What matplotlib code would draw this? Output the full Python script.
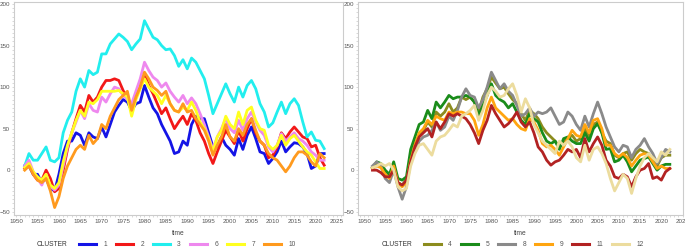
import numpy as np
import matplotlib.pyplot as plt
from matplotlib.ticker import MultipleLocator

plt.rcParams['font.family'] = ['Liberation Sans', 'DejaVu Sans']

# Years (one value per year)
years = np.arange(1952, 2023)

# Left panel clusters
left_labels = ['1', '2', '3', '6', '7', '10']
left_colors = ['#1414e6', '#f21818', '#22eeee', '#ee88ee', '#ffff20', '#ff9a1e']

c1 = [5, 5, -5, -5, -15, -10, -22, -25, -5, 20,
      35, 35, 45, 42, 30, 45, 40, 38, 52, 40,
      55, 70, 78, 85, 82, 72, 80, 82, 102, 88,
      75, 68, 55, 45, 35, 20, 22, 35, 30, 55,
      65, 62, 62, 45, 28, 28, 40, 30, 25, 18,
      38, 25, 42, 52, 38, 22, 20, 8, 14, 22,
      35, 22, 28, 33, 32, 28, 20, 2, 5, 20,
      20]
c2 = [2, 8, -5, -12, -12, 0, -10, -26, -22, 0,
      25, 45, 62, 78, 70, 90, 82, 88, 100, 108,
      108, 110, 108, 96, 86, 78, 88, 100, 115, 102,
      92, 80, 68, 75, 62, 50, 58, 65, 55, 68,
      60, 45, 35, 20, 8, 22, 35, 48, 40, 32,
      48, 35, 50, 62, 45, 35, 30, 15, 18, 28,
      45, 38, 46, 52, 46, 40, 38, 28, 30, 15,
      6]
c3 = [5, 20, 12, 12, 20, 28, 12, 10, 15, 45,
      60, 70, 95, 110, 100, 120, 115, 118, 140, 140,
      152, 158, 164, 160, 155, 145, 152, 158, 180, 170,
      160, 157, 150, 145, 146, 138, 125, 133, 122, 135,
      130, 120, 110, 90, 68, 80, 92, 104, 92, 82,
      100, 88, 102, 108, 98, 80, 70, 52, 57, 70,
      82, 68, 80, 86, 78, 58, 40, 46, 36, 35,
      26]
c6 = [5, 12, -2, -10, -18, -5, -20, -24, -18, 5,
      28, 45, 58, 72, 62, 80, 72, 70, 88, 82,
      92, 100, 98, 90, 85, 80, 95, 110, 130, 120,
      112, 108, 100, 105, 95, 88, 82, 90, 80, 87,
      80, 68, 55, 40, 25, 40, 50, 62, 50, 45,
      60, 48, 62, 70, 58, 48, 42, 28, 22, 30,
      44, 35, 40, 45, 38, 35, 30, 22, 18, 12,
      12]
c7 = [3, 8, -2, -8, -12, -5, -18, -22, -15, 10,
      30, 45, 60, 72, 65, 82, 80, 85, 95, 95,
      95, 95, 96, 92, 88, 65, 85, 98, 110, 100,
      95, 90, 80, 90, 80, 72, 70, 76, 72, 82,
      72, 58, 50, 38, 22, 40, 48, 65, 55, 50,
      70, 55, 72, 76, 60, 50, 48, 30, 25, 30,
      42, 30, 38, 42, 35, 28, 22, 18, 10, 2,
      2]
c10 = [0, 5, -5, -12, -15, -10, -25, -45, -32, -10,
       5, 15, 25, 30, 25, 42, 32, 38, 55, 50,
       65, 75, 85, 90, 95, 72, 88, 100, 118, 110,
       100, 96, 90, 95, 80, 72, 70, 80, 70, 72,
       62, 55, 48, 35, 18, 30, 40, 55, 40, 35,
       50, 42, 55, 62, 48, 35, 30, 20, 15, 12,
       5, -2, 5, 15, 22, 22, 18, 10, 5, 20,
       15]

# Right panel clusters
right_labels = ['4', '5', '8', '9', '11', '12']
right_colors = ['#8c8c1e', '#1a8c1a', '#8a8a8a', '#ffa510', '#b22222', '#ecdc9e']

c4 = [3, 8, 5, -5, -8, 5, -15, -18, -12, 15,
      32, 42, 48, 58, 52, 70, 65, 70, 80, 70,
      75, 88, 85, 88, 82, 70, 88, 98, 112, 105,
      98, 100, 92, 85, 80, 68, 60, 72, 68, 62,
      52, 45, 40, 35, 28, 35, 38, 42, 35, 38,
      50, 40, 55, 58, 45, 35, 32, 18, 15, 20,
      22, 12, 20, 25, 22, 20, 12, 5, 15, 18,
      18]
c5 = [3, 10, 8, 0, -5, 10, -10, -12, -8, 25,
      40, 55, 58, 72, 62, 82, 75, 82, 90, 86,
      88, 88, 90, 88, 82, 66, 78, 90, 104, 90,
      85, 82, 75, 80, 70, 60, 55, 68, 62, 58,
      45, 35, 32, 35, 25, 38, 40, 35, 32, 32,
      45, 35, 50, 56, 45, 25, 26, 10, 12, 18,
      10, -2, 5, 12, 14, 16, 8, 0, 5, 7,
      7]
c8 = [5, 10, 5, -10, -15, 0, -20, -35, -20, 10,
      22, 35, 40, 42, 48, 58, 48, 52, 65, 60,
      72, 88, 98, 90, 88, 75, 85, 100, 118, 108,
      98, 104, 95, 90, 78, 65, 68, 75, 65, 70,
      68, 70, 75, 65, 55, 58, 70, 65, 55, 48,
      65, 52, 68, 82, 68, 52, 40, 28, 22, 30,
      28, 15, 25, 30, 38, 28, 20, 8, 15, 25,
      22]
c9 = [2, 5, 3, -5, -10, 5, -15, -20, -15, 12,
      30, 45, 50, 60, 55, 65, 62, 60, 70, 68,
      70, 70, 68, 68, 60, 42, 55, 75, 88, 75,
      70, 65, 60, 62, 55, 50, 48, 62, 58, 48,
      32, 28, 30, 25, 18, 28, 38, 48, 42, 40,
      55, 45, 60, 62, 50, 30, 30, 20, 16, 20,
      15, 5, 12, 18, 20, 18, 10, 2, 5, 2,
      2]
c11 = [0, 0, -3, -8, -8, 0, -15, -18, -12, 10,
       28, 40, 45, 50, 40, 58, 50, 58, 68, 65,
       68, 65, 62, 55, 45, 32, 48, 60, 78, 68,
       60, 52, 56, 62, 70, 58, 52, 58, 45, 28,
       22, 12, 6, 10, 12, 18, 25, 22, 25, 15,
       38, 22, 32, 40, 30, 12, 5, -8, -10, -5,
       -8, -20, -8, 0, 2, 8, -10, -8, -12, -2,
       2]
c12 = [3, 5, 8, 5, 8, 0, -20, -25, -22, 5,
       20, 30, 32, 25, 18, 35, 40, 42, 48, 55,
       52, 65, 68, 72, 78, 60, 72, 90, 100, 95,
       88, 90, 98, 104, 90, 70, 86, 75, 55, 45,
       35, 30, 25, 20, 35, 30, 35, 28, 15, 10,
       30, 12, 25, 28, 20, 8, -10, -25, -15, -5,
       -10, -28, -10, 5, 15, 20, 15, 10, 22, 18,
       25]

left_series = [c1, c2, c3, c6, c7, c10]
right_series = [c4, c5, c8, c9, c11, c12]

fig = plt.figure(figsize=(6.85, 2.5), dpi=100)
ax1 = fig.add_axes([14 / 685, 0.14, 329 / 685, 0.852])
ax2 = fig.add_axes([358 / 685, 0.14, 325 / 685, 0.852])

panels = [(ax1, left_series, left_labels, left_colors, (1949.5, 2026.4), 37),
          (ax2, right_series, right_labels, right_colors, (1948.6, 2025.1), 382)]

for ax, series, labels, colors, xl, lx in panels:
    for s, lab, col in zip(series, labels, colors):
        ax.plot(years, s, color=col, lw=2.0, label=lab, solid_joinstyle='round')
    ax.set_xlim(*xl)
    ax.set_ylim(-54, 202.5)
    ax.set_xticks(np.arange(1950, 2030, 5))
    ax.set_yticks([-50, 0, 50, 100, 150, 200])
    ax.xaxis.set_minor_locator(MultipleLocator(1))
    ax.yaxis.set_minor_locator(MultipleLocator(5))
    ax.tick_params(which='major', labelsize=4.5, colors='#bbbbbb', labelcolor='#555555',
                   length=1.5, width=0.4, pad=1.5)
    ax.tick_params(which='minor', colors='#bbbbbb', length=1.2, width=0.4)
    for sp in ax.spines.values():
        sp.set_color('#cccccc')
        sp.set_linewidth(0.8)
    ax.set_xlabel('time', fontsize=4.8, color='#444444', labelpad=4)

    # legend below the panel, with the CLUSTER label on its left
    lg = ax.legend(loc='center left', ncol=6, frameon=False, fontsize=4.8,
                   handlelength=2.6, handletextpad=1.1, columnspacing=1.3,
                   borderpad=0.2, bbox_to_anchor=((lx + 37) / 685, 5 / 250),
                   bbox_transform=fig.transFigure, labelcolor='#555555')
    for ln in lg.get_lines():
        ln.set_linewidth(2.2)
    fig.text(lx / 685, 5 / 250, 'CLUSTER', fontsize=4.8, color='#333333', va='center')

fig.savefig('out.png', dpi=100, facecolor='white')
